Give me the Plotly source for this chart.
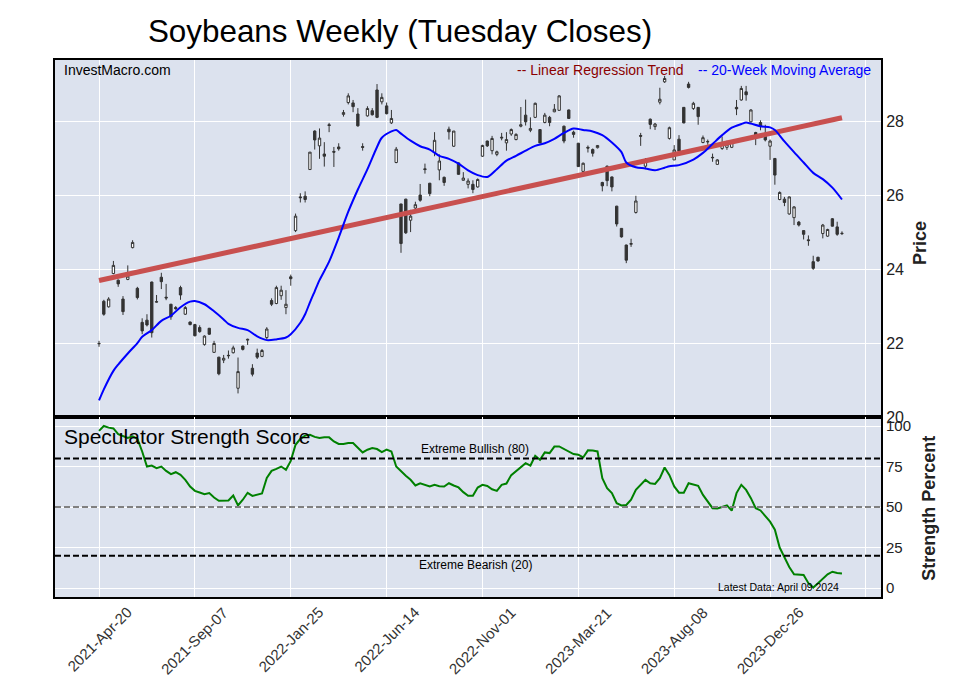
import numpy as np
import pandas as pd
import plotly.graph_objects as go

# ---------------- data ----------------
start_date = "2021-04-20"
n_weeks = 156

opens = [21.98,23.13,22.98,23.88,23.70,23.19,23.72,24.58,23.48,22.56,
         22.62,23.65,23.12,23.78,23.24,23.05,22.96,23.50,22.78,22.57,
         22.50,22.42,21.96,22.40,21.75,21.62,21.54,21.67,21.74,20.78,
         21.92,22.08,21.32,21.73,21.64,22.15,23.15,23.07,23.28,22.96,
         23.79,25.04,25.95,25.97,26.69,27.73,27.33,27.11,27.90,27.18,
         27.30,28.18,28.50,28.49,28.19,27.31,28.14,28.28,28.84,28.52,
         28.41,27.95,26.88,25.76,25.89,25.32,25.65,26.00,26.71,26.32,
         27.15,26.68,26.48,27.78,27.32,26.87,26.40,26.29,26.29,26.22,
         27.05,27.46,27.20,27.10,27.54,27.41,27.65,27.50,27.86,28.16,
         27.75,28.10,27.77,27.96,28.10,28.25,28.29,27.86,28.30,27.70,
         27.40,26.64,27.29,27.23,27.28,26.34,26.78,26.49,25.70,25.10,
         24.65,24.67,25.53,27.61,26.78,28.05,27.85,28.51,29.06,27.53,
         26.95,27.51,28.37,29.00,28.34,28.37,27.42,27.45,27.02,26.83,
         27.26,27.29,27.29,28.37,28.57,28.79,27.98,27.69,27.96,27.59,
         27.32,26.99,25.88,25.89,25.49,25.39,25.27,25.04,24.79,24.20,
         24.32,24.96,24.89,25.36,25.14,24.97]
highs = [22.06,23.17,23.24,24.22,23.72,23.27,24.10,24.78,23.52,22.67,
         22.78,23.66,23.30,23.90,23.60,23.06,23.00,23.55,23.00,22.58,
         22.52,22.48,22.21,22.41,22.06,21.63,21.68,21.80,21.93,21.61,
         21.93,22.12,21.43,21.85,21.84,22.43,23.21,23.55,23.55,23.43,
         23.85,25.50,26.05,26.10,27.16,27.75,27.80,27.43,27.95,27.30,
         27.40,28.30,28.75,28.57,28.35,27.40,28.40,28.35,29.00,28.75,
         28.50,28.30,27.30,25.76,25.90,25.60,25.82,26.30,26.85,26.33,
         27.70,27.10,26.50,27.85,27.73,26.88,26.62,26.45,26.40,26.45,
         27.36,27.47,27.60,27.20,27.68,27.70,27.80,27.67,28.38,28.58,
         28.10,28.50,27.78,28.22,28.14,28.46,28.70,27.88,28.31,27.74,
         27.41,26.88,27.34,27.26,27.35,26.36,26.80,26.50,25.71,25.11,
         24.66,24.82,25.98,27.68,27.00,28.07,27.95,28.90,29.22,27.85,
         27.35,27.62,28.38,29.06,28.52,28.38,27.61,27.50,27.12,26.97,
         27.58,27.47,27.48,28.57,28.95,28.95,28.32,27.71,28.02,27.90,
         27.50,27.00,26.10,25.95,25.96,25.70,25.30,25.05,24.91,24.36,
         24.33,25.22,25.09,25.38,25.28,25.02]
lows = [21.90,22.74,22.96,23.86,23.52,22.76,23.70,24.56,23.18,22.24,
        22.45,22.15,23.10,23.46,23.16,22.63,22.90,23.17,22.76,22.48,
        22.18,22.28,21.93,22.22,21.74,21.13,21.46,21.58,21.72,20.64,
        21.80,21.95,21.10,21.57,21.62,22.10,23.00,23.05,23.17,22.78,
        23.55,25.00,25.80,25.80,26.69,27.23,26.98,26.77,27.70,26.76,
        27.20,28.12,28.45,28.24,27.85,27.20,28.12,28.15,28.08,28.45,
        28.18,27.92,26.86,24.44,24.95,25.00,25.55,25.82,26.58,25.97,
        27.05,26.40,26.25,27.50,27.30,26.55,26.39,26.18,26.05,26.20,
        27.03,27.30,27.10,27.05,27.48,27.20,27.60,27.48,27.83,27.88,
        27.70,28.08,27.40,27.94,27.86,28.24,28.28,27.40,28.06,27.55,
        26.76,26.62,27.15,27.04,27.26,26.10,26.24,26.10,25.15,24.85,
        24.16,24.60,25.50,27.33,26.70,27.78,27.76,28.45,29.03,27.50,
        26.95,27.17,27.94,28.88,28.30,27.90,27.40,27.36,26.90,26.82,
        27.22,27.22,27.27,28.16,28.55,28.55,27.96,27.35,27.75,27.45,
        26.95,26.28,25.86,25.70,25.47,25.19,25.15,24.80,24.63,23.98,
        24.20,24.83,24.87,25.15,24.90,24.92]
closes = [21.99,22.78,23.19,24.10,23.60,22.85,23.81,24.72,23.23,22.33,
          22.49,22.28,23.11,23.66,23.22,22.71,22.93,23.30,22.96,22.50,
          22.20,22.31,22.19,22.24,21.99,21.17,21.59,21.66,21.87,21.23,
          21.83,22.10,21.16,21.62,21.80,22.38,23.05,23.50,23.43,23.05,
          23.74,25.43,25.93,25.88,27.16,27.49,27.54,27.05,27.88,27.16,
          27.25,28.23,28.68,28.39,27.87,27.29,28.34,28.17,28.10,28.64,
          28.20,28.07,27.24,24.69,24.98,25.43,25.74,25.86,26.69,26.04,
          27.48,26.92,26.34,27.71,27.73,26.56,26.46,26.38,26.15,26.42,
          27.34,27.33,27.53,27.17,27.56,27.50,27.77,27.64,27.90,27.98,
          27.80,28.48,27.41,28.16,27.96,28.32,28.68,27.46,28.07,27.64,
          26.77,26.86,27.27,27.13,27.34,26.25,26.39,26.22,25.22,24.87,
          24.24,24.69,25.84,27.59,26.92,27.91,27.92,28.59,29.15,27.82,
          27.22,27.19,27.95,28.91,28.48,28.12,27.55,27.44,27.01,26.95,
          27.38,27.38,27.46,28.33,28.88,28.71,28.30,27.62,27.85,27.49,
          27.46,26.54,26.07,25.80,25.95,25.68,25.19,24.94,24.77,24.02,
          24.22,25.19,25.07,25.16,24.94,24.96]

# 20-week moving average, read at these week numbers
ma_weeks = [0,1,3,4,6,8,9,11,13,15,17,19,20,22,24,26,27,29,31,33,35,37,39,40,42,43,
            44,45,46,48,50,52,54,56,58,59,61,62,63,65,67,69,71,73,75,77,79,81,83,85,
            87,89,91,93,95,97,99,101,103,105,107,109,110,112,114,116,118,119,121,124,
            126,128,130,132,134,135,136,138,140,141,143,145,147,149,151,153,155]
ma_values = [20.45,20.75,21.25,21.42,21.72,22.00,22.17,22.35,22.60,22.74,22.97,23.12,23.14,
             23.05,22.86,22.64,22.52,22.41,22.35,22.18,22.08,22.10,22.15,22.24,22.55,22.78,
             23.10,23.40,23.70,24.20,24.85,25.55,26.15,26.70,27.30,27.55,27.72,27.76,27.66,
             27.47,27.32,27.23,27.06,26.98,26.85,26.67,26.54,26.49,26.70,26.93,27.06,27.20,
             27.33,27.40,27.52,27.68,27.80,27.76,27.72,27.62,27.42,27.16,26.88,26.75,26.72,
             26.67,26.74,26.78,26.81,26.96,27.14,27.38,27.62,27.82,27.92,27.96,27.93,27.86,
             27.83,27.76,27.45,27.16,26.88,26.60,26.43,26.20,25.88]

# linear regression trend (first week, last week)
trend_values = [23.69, 28.09]

# speculator strength score
strength = [97.0,100.0,99.0,98.5,95.0,93.6,92.6,93.6,92.1,84.3,
            75.0,75.6,74.0,75.0,72.3,70.3,71.5,69.9,66.8,62.7,
            60.0,59.0,57.9,58.6,55.9,53.9,53.9,54.1,57.1,51.0,
            54.5,58.8,56.9,57.5,58.4,67.9,72.3,73.6,75.0,73.0,
            78.5,88.4,92.1,94.1,94.6,93.3,92.6,93.0,93.0,90.5,
            88.9,88.9,89.5,89.5,86.8,83.7,85.4,86.4,85.8,83.9,
            85.4,84.3,75.0,71.9,69.3,66.8,63.3,64.7,63.7,62.7,
            63.7,62.9,62.7,64.7,63.3,62.1,59.2,56.9,56.9,62.0,
            63.7,63.0,61.0,60.0,63.7,64.5,69.7,72.0,74.5,77.1,
            75.6,81.6,79.2,83.7,83.3,87.3,87.4,85.8,84.3,82.7,
            82.3,80.6,85.0,84.9,84.3,67.8,61.6,58.6,52.4,51.0,
            51.3,54.5,60.6,63.5,66.8,64.7,64.3,67.8,74.4,69.7,
            62.7,58.9,58.9,64.7,63.7,63.1,57.5,53.4,49.3,49.1,
            50.0,51.0,47.8,58.6,63.7,60.6,55.5,49.3,47.9,44.6,
            41.0,36.0,25.0,19.0,13.0,8.5,8.1,8.1,3.0,0.3,
            3.0,6.0,8.5,10.1,9.3,9.0]

levels = [80, 50, 20]
level_colors = ["black", "gray", "black"]
level_labels = ["Extreme Bullish (80)", "", "Extreme Bearish (20)"]

tick_weeks = [0, 20, 40, 60, 80, 100, 120, 140, 160]
labelled_ticks = 8
price_ticks = [20, 22, 24, 26, 28]
strength_ticks = [0, 25, 50, 75, 100]

# ---------------- build ----------------
start = pd.Timestamp(start_date)
def wk(w):
    return start + pd.to_timedelta(np.asarray(w, dtype=float) * 7, unit="D")

dates = wk(np.arange(n_weeks))
ma_dates = wk(ma_weeks)
tick_dates = wk(tick_weeks)
tick_text = [d.strftime("%Y-%b-%d") for d in tick_dates]
x_range = [start - pd.Timedelta(days=64.3), start + pd.Timedelta(days=1142)]

FONT = "Liberation Sans, Arial, sans-serif"
fig = go.Figure()

fig.add_trace(go.Scatter(x=[dates[0], dates[-1]], y=trend_values, mode="lines",
                         line=dict(color="#C8504F", width=5), xaxis="x", yaxis="y",
                         showlegend=False, hoverinfo="skip"))
fig.add_trace(go.Scatter(x=ma_dates, y=ma_values, mode="lines",
                         line=dict(color="#0000FF", width=2, shape="spline", smoothing=0.8),
                         xaxis="x", yaxis="y", showlegend=False))
fig.add_trace(go.Candlestick(x=dates, open=opens, high=highs, low=lows, close=closes,
                             increasing=dict(fillcolor="white", line=dict(color="#333333", width=1)),
                             decreasing=dict(fillcolor="#333333", line=dict(color="#333333", width=1)),
                             whiskerwidth=0, xaxis="x", yaxis="y", showlegend=False))
fig.add_trace(go.Scatter(x=dates, y=strength, mode="lines",
                         line=dict(color="#008000", width=2),
                         xaxis="x2", yaxis="y2", showlegend=False))

shapes = []
annotations = []
for lv, col, lab in zip(levels, level_colors, level_labels):
    shapes.append(dict(type="line", xref="x2 domain", yref="y2", x0=0, x1=1, y0=lv, y1=lv,
                       line=dict(color=col, width=2, dash="6px,3px"), layer="above"))
    if lab:
        annotations.append(dict(text=lab, xref="paper", yref="y2", x=0.5085, y=lv,
                                yanchor="bottom" if lv > 50 else "top", xanchor="center",
                                showarrow=False, font=dict(family=FONT, size=12, color="black")))

# rotated date labels, centred under their ticks
for d, t in zip(tick_dates[:labelled_ticks], tick_text[:labelled_ticks]):
    annotations.append(dict(text=t, xref="x2", yref="paper", x=d, y=-0.008,
                            xanchor="center", yanchor="top", textangle=-45, showarrow=False,
                            font=dict(family=FONT, size=15, color="#333333")))

annotations += [
    dict(text="InvestMacro.com", xref="paper", yref="paper", x=0.008, y=0.982,
         xanchor="left", yanchor="middle", showarrow=False,
         font=dict(family=FONT, size=14, color="black")),
    dict(text="-- Linear Regression Trend", xref="paper", yref="paper", x=0.764, y=0.982,
         xanchor="right", yanchor="middle", showarrow=False,
         font=dict(family=FONT, size=14, color="#8B0000")),
    dict(text="-- 20-Week Moving Average", xref="paper", yref="paper", x=0.990, y=0.982,
         xanchor="right", yanchor="middle", showarrow=False,
         font=dict(family=FONT, size=14, color="#0000FF")),
    dict(text="Speculator Strength Score", xref="paper", yref="paper", x=0.009, y=0.298,
         xanchor="left", yanchor="middle", showarrow=False,
         font=dict(family=FONT, size=21, color="black")),
    dict(text="Latest Data: April 09 2024", xref="paper", yref="paper", x=0.952, y=0.019,
         xanchor="right", yanchor="middle", showarrow=False,
         font=dict(family=FONT, size=10.5, color="black")),
    dict(text="<b>Price</b>", xref="paper", yref="paper", x=1.047, y=0.659,
         xanchor="center", yanchor="middle", textangle=-90, showarrow=False,
         font=dict(family=FONT, size=18, color="#222222")),
    dict(text="<b>Strength Percent</b>", xref="paper", yref="paper", x=1.058, y=0.166,
         xanchor="center", yanchor="middle", textangle=-90, showarrow=False,
         font=dict(family=FONT, size=18, color="#222222")),
]

axis_common = dict(showgrid=True, gridcolor="white", gridwidth=1, zeroline=False,
                   showline=True, linecolor="black", linewidth=2, mirror=True)

fig.update_layout(
    width=957, height=694,
    margin=dict(l=47, r=84, t=52, b=105),
    paper_bgcolor="white", plot_bgcolor="#DCE2EE",
    font=dict(family=FONT, color="#222222"),
    title=dict(text="Soybeans Weekly (Tuesday Closes)", x=0.4096, xanchor="center",
               y=0.967, yanchor="middle", yref="container",
               font=dict(family=FONT, size=31.4, color="black")),
    xaxis=dict(domain=[0, 1], anchor="y", range=x_range, type="date",
               tickvals=tick_dates, showticklabels=False,
               rangeslider=dict(visible=False), matches="x2", **axis_common),
    xaxis2=dict(domain=[0, 1], anchor="y2", range=x_range, type="date",
                tickvals=tick_dates, showticklabels=False, ticks="", **axis_common),
    yaxis=dict(domain=[0.335, 1], anchor="x", range=[20, 29.65], side="right",
               tickvals=price_ticks, tickfont=dict(size=16, color="#222222"), **axis_common),
    yaxis2=dict(domain=[0, 0.335], anchor="x2", range=[-5.5, 105.5], side="right",
                tickvals=strength_ticks, tickfont=dict(size=15, color="#222222"), **axis_common),
    shapes=shapes, annotations=annotations,
)

fig.write_html("out.html")
